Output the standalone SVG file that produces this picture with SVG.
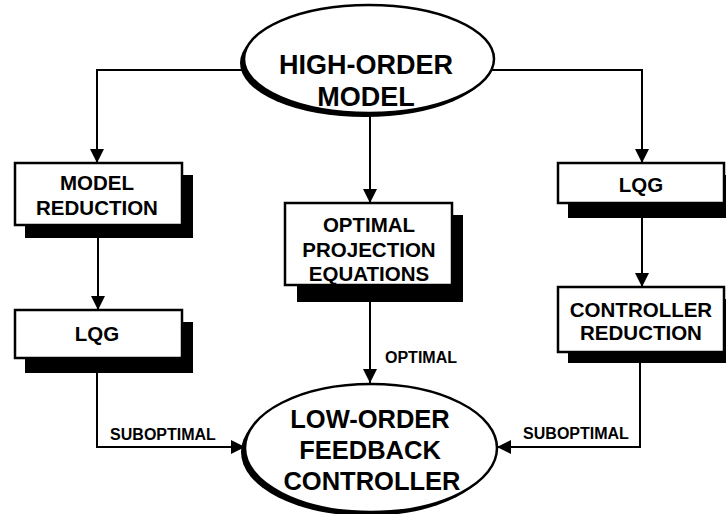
<svg xmlns="http://www.w3.org/2000/svg" width="726" height="514" viewBox="0 0 726 514">
<style>
.box{fill:#fff;stroke:#000;stroke-width:2.5}
.sh{fill:#000}
.el{fill:#fff;stroke:#000;stroke-width:2.5}
.ln{fill:none;stroke:#000;stroke-width:2}
text{font-family:"Liberation Sans",Arial,sans-serif;font-weight:bold;fill:#000;text-anchor:middle}
.big{font-size:27px}
.mid{font-size:20.5px}
.sm{font-size:16px}
</style>
<defs>
<marker id="ah" markerUnits="userSpaceOnUse" markerWidth="14" markerHeight="14" viewBox="0 0 14 14" refX="14" refY="7" orient="auto">
<path d="M0,0 L14,7 L0,14 z" fill="#000"/>
</marker>
</defs>
<g id="connectors">
<path class="ln" d="M250,70 H97 V163" marker-end="url(#ah)"/>
<path class="ln" d="M490,70 H642 V163" marker-end="url(#ah)"/>
<path class="ln" d="M370,112 V203" marker-end="url(#ah)"/>
<path class="ln" d="M98,236 V310" marker-end="url(#ah)"/>
<path class="ln" d="M642,216 V287" marker-end="url(#ah)"/>
<path class="ln" d="M370,300 V383" marker-end="url(#ah)"/>
<path class="ln" d="M97,360 V447 H245" marker-end="url(#ah)"/>
<path class="ln" d="M640,354 V447 H497" marker-end="url(#ah)"/>
<text class="sm" x="163" y="440">SUBOPTIMAL</text>
<text class="sm" x="576" y="439">SUBOPTIMAL</text>
<text class="sm" x="421" y="363">OPTIMAL</text>
</g>
<g id="high-order-model">
<ellipse class="sh" cx="365" cy="63" rx="125" ry="54"/>
<ellipse class="el" cx="369" cy="59" rx="125" ry="54"/>
<text class="big" x="366" y="74">HIGH-ORDER</text>
<text class="big" x="366" y="106">MODEL</text>
</g>
<g id="model-reduction">
<rect class="sh" x="25" y="175" width="168" height="63"/>
<rect class="box" x="15" y="163" width="167" height="62"/>
<text class="mid" x="97" y="190">MODEL</text>
<text class="mid" x="97" y="215">REDUCTION</text>
</g>
<g id="lqg-left">
<rect class="sh" x="25" y="322" width="168" height="51"/>
<rect class="box" x="15" y="310" width="167" height="48"/>
<text class="mid" x="97" y="341">LQG</text>
</g>
<g id="optimal-projection">
<rect class="sh" x="297" y="215" width="166" height="87"/>
<rect class="box" x="285" y="203" width="167" height="82"/>
<text class="mid" x="369" y="232">OPTIMAL</text>
<text class="mid" x="369" y="257">PROJECTION</text>
<text class="mid" x="369" y="281">EQUATIONS</text>
</g>
<g id="lqg-right">
<rect class="sh" x="568" y="175" width="170" height="43"/>
<rect class="box" x="558" y="163" width="166" height="40"/>
<text class="mid" x="641" y="192">LQG</text>
</g>
<g id="controller-reduction">
<rect class="sh" x="568" y="299" width="170" height="64"/>
<rect class="box" x="558" y="287" width="166" height="65"/>
<text class="mid" x="641" y="317">CONTROLLER</text>
<text class="mid" x="641" y="340">REDUCTION</text>
</g>
<g id="low-order-controller">
<ellipse class="sh" cx="367" cy="452" rx="126" ry="64"/>
<ellipse class="el" cx="371" cy="448" rx="126" ry="64"/>
<text style="font-size:25.5px" x="370" y="428">LOW-ORDER</text>
<text style="font-size:25.5px" x="370" y="459">FEEDBACK</text>
<text style="font-size:25.5px" x="372" y="490">CONTROLLER</text>
</g>
</svg>
